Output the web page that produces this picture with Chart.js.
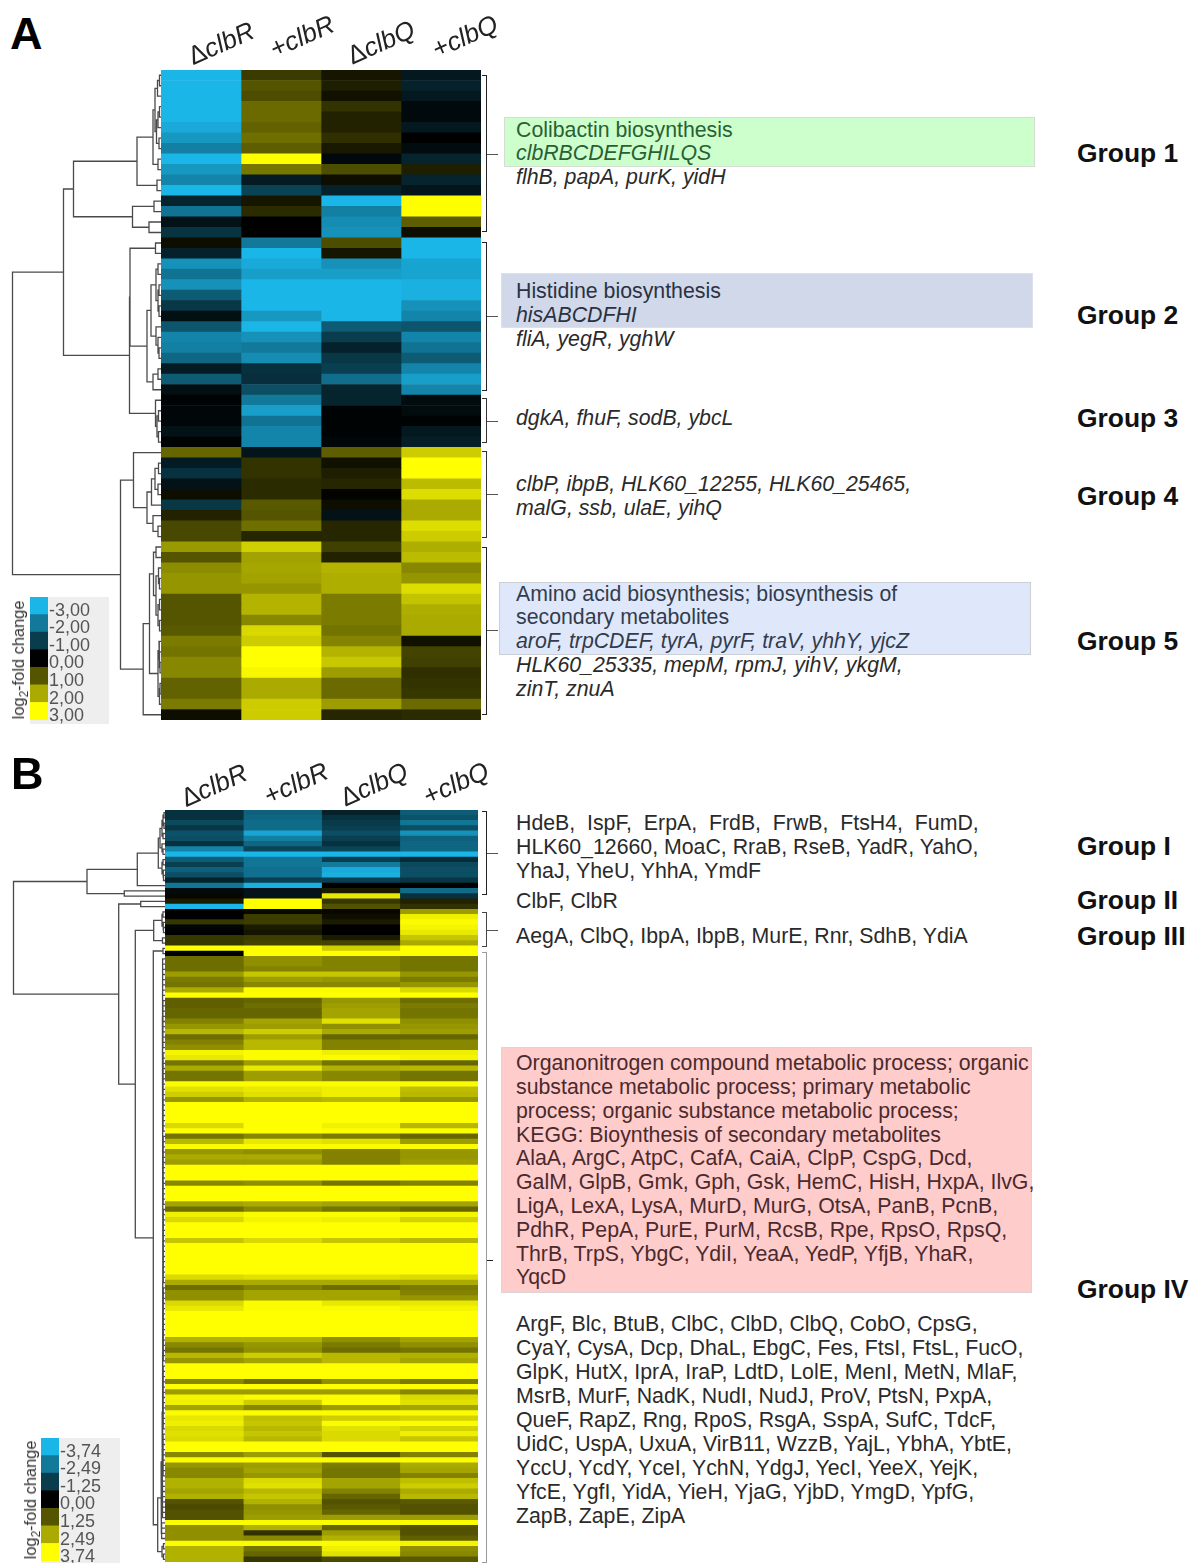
<!DOCTYPE html>
<html>
<head>
<meta charset="utf-8">
<title>clbR / clbQ heatmaps</title>
<script src="https://cdn.jsdelivr.net/npm/chart.js@4/dist/chart.umd.min.js"></script>
<style>
  html, body { margin: 0; padding: 0; background: #fff; }
  body { position: relative; width: 1190px; height: 1563px; overflow: hidden; font-family: "Liberation Sans", Arial, sans-serif; }
  canvas { position: absolute; display: block; }
  .soft { filter: blur(0.5px); }
  .txt { position: absolute; white-space: pre; font-size: 21.3px; line-height: 24px; color: #2a2a2a; transform: translateY(-50%); }
  .grp { position: absolute; white-space: pre; font-size: 26.4px; line-height: 30px; font-weight: bold; color: #111; transform: translateY(-50%); }
  .col { position: absolute; white-space: pre; font-size: 26px; line-height: 30px; font-style: italic; color: #222; transform: translate(-50%, -50%) rotate(-24deg); }
  .col span { font-style: normal; }
  .box { position: absolute; box-sizing: border-box; }
  .panel { position: absolute; font-size: 45px; line-height: 45px; font-weight: bold; color: #000; }
  .unit { position: absolute; white-space: pre; font-size: 16.4px; line-height: 18px; color: #333; transform: translate(-50%, -50%) rotate(-90deg); }
  .unit sub { font-size: 12px; line-height: 0; }
  .br, .tick { position: absolute; box-sizing: border-box; }
</style>
</head>
<body>
<script>
// column labels
const columnsTop = ['clbR', 'clbR', 'clbQ', 'clbQ'];
const columnSigns = ['Δ', '+', 'Δ', '+'];

// panel A, log2-fold change per gene row
const aDeltaClbR = [-3,-3,-3,-3,-3,-2.8,-2.5,-2.1,-3,-2.5,-2.2,-3,-.6,-1.9,-.3,-.85,
  .15,-.55,-2.4,-1.9,-2.4,-1.5,-.9,-.25,-1.4,-2.2,-2.1,-1.7,-.45,-1.5,-.25,
  -.05,-.1,-.1,-.3,-.05,
  1.2,-.45,-.8,-.3,.15,-.9,.4,.85,.85,
  1.8,1,1.65,1.75,1.75,1,1,1,1.05,1.45,1.35,1.6,1.6,1.15,1.15,1.45,.15];
const aPlusClbR = [.7,1,.9,1.25,1.25,1.15,1.3,1.1,3,1.4,-.45,-1.1,.25,.5,0,0,
  -2,-3,-2.8,-2.6,-3,-3,-3,-2.5,-3,-2.4,-2,-2.3,-.8,-.75,-1.3,
  -2,-2.6,-1.9,-2.2,-2.2,
  -.35,.6,.6,.5,.5,1.05,1,1.3,.45,
  2.45,1.9,1.95,1.9,1.75,2.1,2.1,1.6,2.55,2.4,3,3,2.9,2,2,2.4,2.4];
const aDeltaClbQ = [.25,.35,.2,.6,.4,.4,.55,.3,-.15,.9,.15,-.55,-3,-2.1,-2.3,-2.4,
  .9,.25,-2.4,-2.6,-3,-3,-3,-3,-1.5,-1,-.55,-.9,-1.05,-1.8,-.6,
  -.6,-.05,-.05,-.05,-.1,
  1.1,.2,.35,.45,.03,.15,-.3,.45,.45,
  .75,.4,2.1,2.05,2.05,1.45,1.45,1.45,1.35,1.55,2.1,2.35,1.85,1.25,1.25,1.85,.45];
const aPlusClbQ = [-.4,-.55,-.4,-.15,-.15,-.4,0,-.2,-.6,.35,-.6,-.35,3,3,1.1,.15,
  -3,-3,-2.7,-2.7,-2.9,-2.9,-2.4,-2.2,-1.4,-2.2,-1.9,-1.5,-2.2,-2.6,-2.2,
  -.2,-.2,-.05,-.4,-.5,
  2.4,3,3,2.2,2.6,2,2,2.6,2.4,
  2.05,2.2,1.6,1.75,2.6,2.3,2.05,2,2,.2,.8,.75,.55,.6,.65,1.25,.5];

// panel B, log2-fold change per protein row (ten rows a line)
const bDeltaClbR = [-1,-1,-1.5,-1.1,-1.7,-1.6,-1,-2.7,-3.74,-1.9,
  -1.3,-2,-1.6,-.7,-2.4,-.2,.1,.4,-3.74,0,
  0,.8,-.1,0,.8,.8,3.74,0,1.6,1.6,
  1.6,2.3,1.8,1.7,2.5,3.74,1.4,1.4,1.5,1.5,
  1.9,2.2,2.7,1.6,1.9,2.1,3.6,3.4,1.7,2.5,
  1.7,1.7,3.7,3.3,3,2.2,3.74,3.74,3.74,3.74,
  3.2,3.74,1.7,2.7,3.7,2.2,2.5,2.3,3.74,3.74,
  3.74,2,3.74,3.74,3.74,2.4,1.6,3.5,3.2,3.74,
  3.74,3.74,2.9,3.74,3.74,3.74,3.74,3.74,3.74,3.2,
  2.5,1.6,2.1,2.1,3.2,3.4,3.74,3.74,3.74,3.74,
  3.74,2.6,2,1.7,2.7,2.2,3.74,3.74,3.74,2,
  3.74,2.3,3.6,3.5,2.4,3.7,3.4,3.5,3.2,3.3,
  3.2,3.74,3.74,2,3.7,2.2,2,2,2.6,2.6,
  2.4,2.6,1.2,1.1,1.2,1.2,3.7,2.1,2.1,2.1,
  3.7,2.6,2.6,2.6];
const bPlusClbR = [-2,-2.1,-2.2,-2.2,-3.4,-2.6,-2.1,-1.4,-3.74,-2.4,
  -2.4,-2.3,-2.3,-1.3,-3.6,-.4,-.4,3.74,3.74,.1,
  .9,.9,.4,.3,.9,1,3.74,3.74,2.1,2.1,
  1.9,2.9,2.3,2,3.7,3.74,1.5,1.6,1.5,1.5,
  2.4,2.3,3,2.3,2.7,2.7,3.7,3.7,2.3,3.4,
  2.3,2.3,3.7,3.4,3.3,2.6,3.74,3.74,3.74,3.74,
  3.74,3.74,2,3.4,3.7,2.1,2.5,2.3,3.74,3.74,
  3.74,2.1,3.74,3.74,3.74,2.5,2,3.7,3.6,3.74,
  3.74,3.74,3.2,3.74,3.74,3.74,3.74,3.74,3.74,3.3,
  2.5,1.9,2.4,2.4,3.7,3.7,3.74,3.74,3.74,3.74,
  3.74,2.6,2.2,2.1,3,2.4,3.74,3.74,3.74,1.6,
  3.74,2.3,3.7,3,2,3.7,2.8,2.9,2.7,2.9,
  2.7,3.74,3.74,2.3,3.7,2.3,2.4,2.2,3.2,3.3,
  2.7,2.9,2.6,2.1,2.2,2.3,3.7,2.6,.7,2,
  3.7,1.7,1.5,.8];
const bDeltaClbQ = [-.7,-1,-1.2,-1.3,-1.6,-1.3,-1,-1.4,-3.74,-1.3,
  -2.5,-3.5,-3.6,-1.3,0,.4,3.4,.8,1.2,.1,
  .2,.4,0,0,.4,1,3,3.74,1.9,1.9,
  1.9,2.9,2.2,2,3.7,3.74,2.2,2.3,2.4,2.4,
  3.3,2.1,2.5,1.5,1.9,1.9,3.5,3.7,1.7,2.6,
  2,2,3.7,3.5,3.5,2.7,3.74,3.74,3.74,3.74,
  3.55,3.7,1.8,3.3,3.7,1.9,1.9,1.9,3.74,3.74,
  3.74,1.7,3.74,3.74,3.74,2.4,1.7,3.7,3.5,3.74,
  3.74,3.74,2.9,3.74,3.74,3.74,3.74,3.74,3.74,3.3,
  2.5,1.6,2.4,2.4,3.4,3.7,3.74,3.74,3.74,3.74,
  3.74,2.1,1.8,1.6,2.7,2.7,3.74,3.74,3.74,2.1,
  3.74,2.3,3.7,3.7,2.3,3.7,3,3.7,3.3,3.2,
  3.2,3.74,3.74,1.2,3.7,1.8,1.7,1.7,2.4,2.4,
  1.9,1.5,1.2,1.3,1.5,2.3,3.7,1.5,2.3,2.6,
  3.7,3.5,3.3,1.1];
const bPlusClbQ = [-1.9,-1.7,-2.4,-1.6,-3,-2,-2.1,-2.1,-3.74,-.9,
  -1.5,-1.6,-1.6,-1.1,0,-2.2,-1,.5,.7,2.3,
  3.5,3.7,3.6,3.4,2.9,2.5,3.74,3.74,1.7,1.7,
  1.7,2.2,1.8,2.2,3.2,3.74,1.6,1.8,1.7,1.7,
  2.1,2.2,2.3,1.5,2,2,3.5,3.6,1.5,2.7,
  1.7,1.7,3.7,2.8,2.7,2.2,3.74,3.74,3.74,3.74,
  2.7,3.7,1.5,2.3,3.7,2.2,2.2,2.3,3.74,3.74,
  3.74,1.9,3.74,3.74,3.74,2.4,1.5,3.6,3.1,3.74,
  3.74,3.74,2.7,3.74,3.74,3.74,3.74,3.74,3.74,3.2,
  2.5,1.8,1.9,2.2,3.4,3.6,3.74,3.74,3.74,3.74,
  3.74,2.4,2.1,1.7,2.6,2.4,3.74,3.74,3.74,1.8,
  3.74,2,3.2,3.3,2.4,3.7,3.1,3.7,3.1,3.5,
  2.9,3.74,3.74,1.9,3.7,2.5,2.4,1.9,2.8,3,
  2.5,2.7,1.3,1.2,1.2,2.3,3.7,1.2,1.2,1.4,
  3.6,2.1,2,1.3];

// colour key levels and tick labels
const keyLevelsA = [-3, -2, -1, 0, 1, 2, 3];
const keyLabelsA = ['-3,00', '-2,00', '-1,00', '0,00', '1,00', '2,00', '3,00'];
const keyLevelsB = [-3.74, -2.49, -1.25, 0, 1.25, 2.49, 3.74];
const keyLabelsB = ['-3,74', '-2,49', '-1,25', '0,00', '1,25', '2,49', '3,74'];

// row clustering: [merge distance, child, child], a number is a row
const treeA = [148.5,
  [97.5,
    [87.5,
      [24,
        [8,
          [6, [3.5, [1.5, 0, 1], 2], [4.5, [3, [1.5, 3, 4], 5], [2, 6, 7]]],
          [3, 8, 9]],
        [4, 10, 11]],
      [28.5, [7, 12, 13], [12, 14, 15]]],
    [31.5,
      [31,
        [5.5, 16, 17],
        [14,
          [10,
            [5, [3, 18, 19], [3, [2, 20, 21], [2, 22, 23]]],
            [5, 24, [3, 25, [2, 26, 27]]]],
          [8, [3, 28, 29], 30]]],
      [5.5, 31, [4, [2.5, 32, 33], [2.5, 34, 35]]]]],
  [40.5,
    [27.5,
      36,
      [14,
        [9.5, [6, [2.5, 37, 38], [3, 39, 40]], 41],
        [8, 42, [3, 43, 44]]]],
    [17.8,
      [11.5,
        [7.5, [5, 45, 46], [5, [2.5, 47, [1.5, 48, 49]], [3, [1.5, 50, 51], [1.5, 52, 53]]]],
        [3, [2, 54, [1.5, 55, [1, 56, 57]]], [1.5, [1, 58, 59], 60]]],
      61]]];

// the long chain of group IV in panel B: first row, last row, distance
const chainB = [[28, 35, 2.4], [36, 45, 2.1], [46, 61, 1.9], [62, 75, 1.8], [76, 90, 1.7], [91, 105, 1.7], [106, 118, 1.8], [119, 127, 1.9], [128, 135, 2.5], [136, 139, 3.4]];

function chainTree(segments) {
  let whole = null;
  segments.forEach(([first, last, dist]) => {
    let seg = first;
    for (let r = first + 1; r <= last; r++) seg = [dist, seg, r];
    whole = whole === null ? seg : [dist + 0.5, whole, seg];
  });
  return whole;
}

const treeB = [151.5,
  [78,
    [27.7,
      [6.7,
        [5, [3, [2, [1, 0, 1], [1, 2, 3]], [2, 4, 5]], [3, 6, [2, 7, 8]]],
        [3, [2, 9, 10], [2, 11, [1.5, 12, 13]]]],
      14],
    [40.7, 15, 16]],
  [46.3,
    [24.3, 17, 18],
    [29.7,
      [11.3,
        [3, [2, 19, 20], [2, 21, [1.5, 22, 23]]],
        [2.5, 24, 25]],
      [11.7,
        [2, 26, 27],
        [7.3, chainTree(chainB), [3, [1.5, 140, 141], [1.5, 142, 143]]]]]]];

function heatColor(v, top) {
  const f = Math.max(-1, Math.min(1, v / top));
  if (f >= 0) {
    const c = Math.round(255 * f);
    return `rgb(${c},${c},0)`;
  }
  const a = -f;
  return `rgb(${Math.round(27 * a)},${Math.round(182 * a)},${Math.round(232 * a)})`;
}

function addCanvas(x, y, w, h, soft) {
  const c = document.createElement('canvas');
  c.width = w;
  c.height = h;
  c.style.left = x + 'px';
  c.style.top = y + 'px';
  c.style.width = w + 'px';
  c.style.height = h + 'px';
  if (soft) c.className = 'soft';
  document.body.appendChild(c);
  return c;
}

function drawHeat(x, y, w, h, series, top) {
  const rows = series[0].map((_, i) => 'r' + i);
  new Chart(addCanvas(x, y, w, h, true), {
    type: 'bar',
    data: {
      labels: rows,
      datasets: series.map((vals, col) => ({
        label: columnSigns[col] + columnsTop[col],
        data: vals.map(() => [col, col + 1]),
        backgroundColor: vals.map(v => heatColor(v, top)),
        borderWidth: 0,
        barPercentage: 1,
        categoryPercentage: 1,
        grouped: false,
      })),
    },
    options: {
      indexAxis: 'y',
      responsive: false,
      animation: false,
      layout: { padding: 0 },
      plugins: { legend: { display: false }, tooltip: { enabled: false } },
      scales: {
        x: { type: 'linear', min: 0, max: 4, display: false },
        y: { display: false },
      },
    },
  });
}

// walks a tree, returns the row position of the node and collects the U shapes
function treeSegments(node, out) {
  if (typeof node === 'number') return { y: node + 0.5, d: 0 };
  const a = treeSegments(node[1], out);
  const b = treeSegments(node[2], out);
  out.push({ x: a.d, y: a.y }, { x: node[0], y: a.y }, { x: node[0], y: b.y }, { x: b.d, y: b.y }, { x: NaN, y: NaN });
  return { y: (a.y + b.y) / 2, d: node[0] };
}

function drawTree(x, y, w, h, tree, rowCount) {
  const pts = [];
  treeSegments(tree, pts);
  new Chart(addCanvas(x, y, w, h, true), {
    type: 'scatter',
    data: {
      datasets: [{
        data: pts,
        showLine: true,
        spanGaps: false,
        borderColor: '#4a4a4a',
        borderWidth: 1.3,
        pointRadius: 0,
      }],
    },
    options: {
      responsive: false,
      animation: false,
      layout: { padding: 0 },
      plugins: { legend: { display: false }, tooltip: { enabled: false } },
      scales: {
        x: { type: 'linear', min: 0, max: w, reverse: true, display: false },
        y: { type: 'linear', min: 0, max: rowCount, reverse: true, display: false },
      },
    },
  });
}

function drawKey(x, y, levels, labels, top) {
  const c = addCanvas(x, y, 79, 127, false);
  c.style.background = '#eeeeee';
  new Chart(c, {
    type: 'bar',
    data: {
      labels: labels,
      datasets: [{
        data: levels.map(() => 1),
        backgroundColor: levels.map(v => heatColor(v, top)),
        borderWidth: 0,
        barPercentage: 1,
        categoryPercentage: 1,
      }],
    },
    options: {
      indexAxis: 'y',
      responsive: false,
      animation: false,
      layout: { padding: { top: 0, bottom: 4, left: 0, right: 0 } },
      plugins: { legend: { display: false }, tooltip: { enabled: false } },
      scales: {
        x: { min: 0, max: 1, display: false },
        y: {
          position: 'right',
          afterFit: s => {
            s.width = 61;
            s.paddingTop = 0;
            s.paddingBottom = 0;
          },
          grid: { display: false, drawTicks: false },
          border: { display: false },
          ticks: {
            autoSkip: false,
            padding: 1,
            labelOffset: 5,
            color: '#555',
            font: { family: '"Liberation Sans"', size: 18 },
          },
        },
      },
    },
  });
}

function addDiv(cls, css, html) {
  const d = document.createElement('div');
  d.className = cls;
  d.style.cssText = css;
  if (html !== undefined) d.innerHTML = html;
  document.body.appendChild(d);
  return d;
}

drawTree(0, 70, 161, 650, treeA, 62);
drawHeat(161, 70, 320, 650, [aDeltaClbR, aPlusClbR, aDeltaClbQ, aPlusClbQ], 3);
drawKey(30, 597, keyLevelsA, keyLabelsA, 3);

drawTree(0, 810, 165, 752, treeB, 144);
drawHeat(165, 810, 313, 752, [bDeltaClbR, bPlusClbR, bDeltaClbQ, bPlusClbQ], 3.74);
drawKey(41, 1438, keyLevelsB, keyLabelsB, 3.74);

// panel letters and key captions
addDiv('panel', 'left:10px;top:11px', 'A');
addDiv('panel', 'left:11px;top:751px', 'B');
addDiv('unit', 'left:18px;top:660px', 'log<sub>2</sub>-fold change');
addDiv('unit', 'left:30px;top:1500px', 'log<sub>2</sub>-fold change');

// column headers
const headerSpotsA = [[221, 43], [302, 36], [381, 42], [465, 36]];
const headerSpotsB = [[214, 785], [296, 783], [374, 784], [456, 783]];
[headerSpotsA, headerSpotsB].forEach(spots => spots.forEach(([x, y], i) => {
  addDiv('col', `left:${x}px;top:${y}px`, `<span>${columnSigns[i]}</span>${columnsTop[i]}`);
}));

// shaded boxes behind the text
addDiv('box', 'left:504px;top:117px;width:531px;height:50px;background:#ccffcc;border:1px solid #d4dcd4');
addDiv('box', 'left:501px;top:273px;width:532px;height:55px;background:#d0d8ea;border:1px solid #dde0e8');
addDiv('box', 'left:499px;top:582px;width:532px;height:73px;background:#dfe8fb;border:1px solid #ccd0d6');
addDiv('box', 'left:501px;top:1047px;width:531px;height:246px;background:#ffcccc;border:1px solid #dcd4d4');

// brackets: top, bottom, tick height, colour
const bracketSpots = [
  [75, 232, 154, '#222'], [242, 391, 316, '#222'], [398, 443, 421, '#333'],
  [451, 538, 494, '#333'], [547, 715, 630, '#222'],
  [811, 895, 853, '#222'], [912, 947, 930, '#444'], [952, 1563, 1260, '#999'],
];
bracketSpots.forEach(([top, bottom, tick, color]) => {
  addDiv('br', `left:482px;top:${top}px;width:5px;height:${bottom - top}px;border:1.5px solid ${color};border-left:none`);
  addDiv('tick', `left:487px;top:${tick}px;width:${tick === 1260 ? 6 : 11}px;height:1px;background:${tick === 1260 ? '#222' : '#555'}`);
});

// gene lists
const geneLines = [
  [130, 'Colibactin biosynthesis', '#2a5f33', false],
  [153, 'clbRBCDEFGHILQS', '#2a5f33', true],
  [177, 'flhB, papA, purK, yidH', '#2a2a2a', true],
  [291, 'Histidine biosynthesis', '#2a3242', false],
  [315, 'hisABCDFHI', '#2a3242', true],
  [339, 'fliA, yegR, yghW', '#2a2a2a', true],
  [418, 'dgkA, fhuF, sodB, ybcL', '#2a2a2a', true],
  [484, 'clbP, ibpB, HLK60_12255, HLK60_25465,', '#2a2a2a', true],
  [508, 'malG, ssb, ulaE, yihQ', '#2a2a2a', true],
  [594, 'Amino acid biosynthesis; biosynthesis of', '#333c4c', false],
  [617, 'secondary metabolites', '#333c4c', false],
  [641, 'aroF, trpCDEF, tyrA, pyrF, traV, yhhY, yjcZ', '#333c4c', true],
  [665, 'HLK60_25335, mepM, rpmJ, yihV, ykgM,', '#2a2a2a', true],
  [689, 'zinT, znuA', '#2a2a2a', true],
  [823, 'HdeB,  IspF,  ErpA,  FrdB,  FrwB,  FtsH4,  FumD,', '#2a2a2a', false],
  [847, 'HLK60_12660, MoaC, RraB, RseB, YadR, YahO,', '#2a2a2a', false],
  [871, 'YhaJ, YheU, YhhA, YmdF', '#2a2a2a', false],
  [901, 'ClbF, ClbR', '#2a2a2a', false],
  [936, 'AegA, ClbQ, IbpA, IbpB, MurE, Rnr, SdhB, YdiA', '#2a2a2a', false],
  [1063, 'Organonitrogen compound metabolic process; organic', '#4a2a2c', false],
  [1087, 'substance metabolic process; primary metabolic', '#4a2a2c', false],
  [1111, 'process; organic substance metabolic process;', '#4a2a2c', false],
  [1135, 'KEGG: Bioynthesis of secondary metabolites', '#4a2a2c', false],
  [1158, 'AlaA, ArgC, AtpC, CafA, CaiA, ClpP, CspG, Dcd,', '#4a2a2c', false],
  [1182, 'GalM, GlpB, Gmk, Gph, Gsk, HemC, HisH, HxpA, IlvG,', '#4a2a2c', false],
  [1206, 'LigA, LexA, LysA, MurD, MurG, OtsA, PanB, PcnB,', '#4a2a2c', false],
  [1230, 'PdhR, PepA, PurE, PurM, RcsB, Rpe, RpsO, RpsQ,', '#4a2a2c', false],
  [1254, 'ThrB, TrpS, YbgC, YdiI, YeaA, YedP, YfjB, YhaR,', '#4a2a2c', false],
  [1277, 'YqcD', '#4a2a2c', false],
  [1324, 'ArgF, Blc, BtuB, ClbC, ClbD, ClbQ, CobO, CpsG,', '#2a2a2a', false],
  [1348, 'CyaY, CysA, Dcp, DhaL, EbgC, Fes, FtsI, FtsL, FucO,', '#2a2a2a', false],
  [1372, 'GlpK, HutX, IprA, IraP, LdtD, LolE, MenI, MetN, MlaF,', '#2a2a2a', false],
  [1396, 'MsrB, MurF, NadK, NudI, NudJ, ProV, PtsN, PxpA,', '#2a2a2a', false],
  [1420, 'QueF, RapZ, Rng, RpoS, RsgA, SspA, SufC, TdcF,', '#2a2a2a', false],
  [1444, 'UidC, UspA, UxuA, VirB11, WzzB, YajL, YbhA, YbtE,', '#2a2a2a', false],
  [1468, 'YccU, YcdY, YceI, YchN, YdgJ, YecI, YeeX, YejK,', '#2a2a2a', false],
  [1492, 'YfcE, YgfI, YidA, YieH, YjaG, YjbD, YmgD, YpfG,', '#2a2a2a', false],
  [1516, 'ZapB, ZapE, ZipA', '#2a2a2a', false],
];
geneLines.forEach(([y, text, color, italic]) => {
  const d = addDiv('txt', `left:516px;top:${y}px;color:${color};font-style:${italic ? 'italic' : 'normal'}`);
  d.textContent = text;
});

const groupLabels = [
  [153, 'Group 1'], [315, 'Group 2'], [418, 'Group 3'], [496, 'Group 4'], [641, 'Group 5'],
  [846, 'Group I'], [900, 'Group II'], [936, 'Group III'], [1289, 'Group IV'],
];
groupLabels.forEach(([y, text]) => {
  const d = addDiv('grp', `left:1077px;top:${y}px`);
  d.textContent = text;
});
</script>
</body>
</html>
